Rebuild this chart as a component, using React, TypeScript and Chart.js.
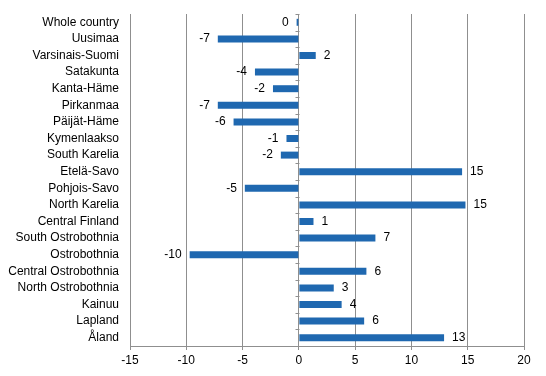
import React, { useEffect, useRef } from 'react';
import { Chart, registerables } from 'chart.js';

Chart.register(...registerables);

const categories = [
  'Whole country', 'Uusimaa', 'Varsinais-Suomi', 'Satakunta', 'Kanta-Häme',
  'Pirkanmaa', 'Päijät-Häme', 'Kymenlaakso', 'South Karelia', 'Etelä-Savo',
  'Pohjois-Savo', 'North Karelia', 'Central Finland', 'South Ostrobothnia',
  'Ostrobothnia', 'Central Ostrobothnia', 'North Ostrobothnia', 'Kainuu',
  'Lapland', 'Åland',
];
const values = [
  -0.2, -7.2, 1.5, -3.9, -2.3, -7.2, -5.8, -1.1, -1.6, 14.5,
  -4.8, 14.8, 1.3, 6.8, -9.7, 6.0, 3.1, 3.8, 5.8, 12.9,
];
const valueLabels = [
  '0', '-7', '2', '-4', '-2', '-7', '-6', '-1', '-2', '15',
  '-5', '15', '1', '7', '-10', '6', '3', '4', '6', '13',
];
const xMin = -15;
const xMax = 20;
const xStep = 5;

const FONT = '"Liberation Sans", Arial, sans-serif';
const GRID = '#8f8f8f';
const BAR = '#1f68b0';

export default function App() {
  const ref = useRef<HTMLCanvasElement>(null);

  useEffect(() => {
    if (!ref.current) return;

    const labelPlugin = {
      id: 'valueLabels',
      afterDatasetsDraw(chart: any) {
        const ctx = chart.ctx;
        const meta = chart.getDatasetMeta(0);
        ctx.save();
        ctx.font = `12px ${FONT}`;
        ctx.fillStyle = '#000';
        ctx.textBaseline = 'middle';
        meta.data.forEach((bar: any, i: number) => {
          const { x, y } = bar.getProps(['x', 'y'], true);
          if (values[i] >= 0) {
            ctx.textAlign = 'left';
            ctx.fillText(valueLabels[i], x + 8, y);
          } else {
            ctx.textAlign = 'right';
            ctx.fillText(valueLabels[i], x - 8, y);
          }
        });
        ctx.restore();
      },
    };

    const zeroTicks = {
      id: 'zeroTicks',
      beforeDatasetsDraw(chart: any) {
        const ctx = chart.ctx;
        const xs = chart.scales.x;
        const ys = chart.scales.y;
        const x0 = Math.round(xs.getPixelForValue(0)) + 0.5;
        ctx.save();
        ctx.strokeStyle = GRID;
        ctx.lineWidth = 1;
        ctx.beginPath();
        for (let i = 0; i <= categories.length; i++) {
          const y = Math.round(ys.getPixelForValue(i - 0.5)) + 0.5;
          ctx.moveTo(x0 - 4, y);
          ctx.lineTo(x0, y);
        }
        ctx.stroke();
        ctx.restore();
      },
    };

    const chart = new Chart(ref.current, {
      type: 'bar',
      data: {
        labels: categories,
        datasets: [
          {
            data: values,
            backgroundColor: BAR,
            borderWidth: 0,
            barPercentage: 0.42,
            categoryPercentage: 1,
          },
        ],
      },
      options: {
        indexAxis: 'y',
        responsive: false,
        animation: false,
        layout: { padding: { top: 14, right: 22, left: 0, bottom: 0 } },
        plugins: {
          legend: { display: false },
          tooltip: { enabled: false },
        },
        scales: {
          x: {
            min: xMin,
            max: xMax,
            ticks: {
              stepSize: xStep,
              color: '#000',
              font: { size: 12, family: FONT },
              padding: 3,
            },
            grid: { color: GRID, tickLength: 4, drawTicks: true },
            border: { color: GRID },
            afterFit(s: any) {
              s.height = 30;
              s.paddingLeft = 0;
              s.paddingRight = 0;
            },
          },
          y: {
            grid: { display: false, drawTicks: false, tickLength: 0 },
            border: { display: false },
            ticks: {
              color: '#000',
              font: { size: 12, family: FONT },
              padding: 11,
              autoSkip: false,
            },
            afterFit(s: any) {
              s.width = 130;
              s.paddingTop = 0;
              s.paddingBottom = 0;
            },
          },
        },
      },
      plugins: [zeroTicks, labelPlugin],
    } as any);

    return () => chart.destroy();
  }, []);

  return (
    <div style={{ position: 'absolute', left: 0, top: 0, width: 546, height: 376, background: '#fff' }}>
      <canvas ref={ref} width={546} height={376} style={{ display: 'block' }} />
    </div>
  );
}
